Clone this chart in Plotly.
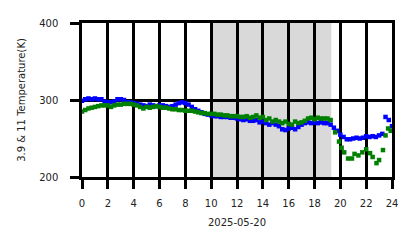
import plotly.graph_objects as go

blue_t = [0.0, 0.25, 0.5, 0.75, 1.0, 1.25, 1.5, 1.75, 2.0, 2.25, 2.5, 2.75, 3.0, 3.25, 3.5, 3.75,
          4.0, 4.25, 4.5, 4.75, 5.0, 5.25, 5.5, 5.75, 6.0, 6.25, 6.5, 6.75, 7.0, 7.25, 7.5, 7.75,
          8.0, 8.25, 8.5, 8.75, 9.0, 9.25, 9.5, 9.75, 10.0, 10.25, 10.5, 10.75, 11.0, 11.25, 11.5, 11.75,
          12.0, 12.25, 12.5, 12.75, 13.0, 13.25, 13.5, 13.75, 14.0, 14.25, 14.5, 14.75, 15.0, 15.25, 15.5, 15.75,
          16.0, 16.25, 16.5, 16.75, 17.0, 17.25, 17.5, 17.75, 18.0, 18.25, 18.5, 18.75, 19.0, 19.25, 19.5, 19.75,
          20.0, 20.25, 20.5, 20.75, 21.0, 21.25, 21.5, 21.75, 22.0, 22.25, 22.5, 22.75, 23.0, 23.25, 23.5, 23.75, 24.0]
blue_k = [299, 301, 302, 301, 302, 301, 301, 298, 297, 297, 298, 301, 301, 300, 297, 297,
          296, 295, 294, 293, 292, 294, 293, 292, 293, 293, 292, 291, 292, 294, 296, 297,
          296, 294, 291, 288, 286, 284, 282, 281, 280, 279, 279, 278, 278, 278, 277, 277,
          276, 275, 274, 275, 273, 273, 274, 271, 272, 270, 268, 270, 268, 266, 262, 261,
          263, 264, 262, 265, 268, 270, 271, 270, 271, 270, 271, 270, 270, 268, 264, 260,
          255, 252, 249, 249, 250, 251, 250, 251, 253, 252, 253, 252, 254, 256, 278, 274, 266]

green_t = [0.0, 0.25, 0.5, 0.75, 1.0, 1.25, 1.5, 1.75, 2.0, 2.25, 2.5, 2.75, 3.0, 3.25, 3.5, 3.75,
           4.0, 4.25, 4.5, 4.75, 5.0, 5.25, 5.5, 5.75, 6.0, 6.25, 6.5, 6.75, 7.0, 7.25, 7.5, 7.75,
           8.0, 8.25, 8.5, 8.75, 9.0, 9.25, 9.5, 9.75, 10.0, 10.25, 10.5, 10.75, 11.0, 11.25, 11.5, 11.75,
           12.0, 12.25, 12.5, 12.75, 13.0, 13.25, 13.5, 13.75, 14.0, 14.25, 14.5, 14.75, 15.0, 15.25, 15.5, 15.75,
           16.0, 16.25, 16.5, 16.75, 17.0, 17.25, 17.5, 17.75, 18.0, 18.25, 18.5, 18.75, 19.0, 19.25,
           19.6, 19.9, 20.1, 20.3, 20.6, 20.9, 21.1, 21.4, 21.7, 22.0, 22.3, 22.5, 22.8, 23.0, 23.3, 23.5, 23.7, 23.9]
green_k = [285, 287, 289, 290, 291, 292, 293, 293, 293, 291, 293, 294, 294, 295, 295, 295,
           294, 293, 291, 289, 291, 290, 291, 292, 291, 290, 290, 289, 288, 288, 287, 287,
           286, 286, 286, 285, 284, 283, 283, 282, 282, 282, 281, 281, 280, 280, 279, 279,
           279, 278, 278, 279, 277, 278, 280, 277, 278, 274, 276, 272, 274, 272, 270, 272,
           269, 268, 272, 270, 271, 273, 276, 277, 275, 277, 276, 276, 276, 274,
           258, 246, 238, 232, 224, 224, 230, 228, 232, 236, 231, 226, 218, 222, 235, 254, 263, 260]

x_ticks = [0, 2, 4, 6, 8, 10, 12, 14, 16, 18, 20, 22, 24]
y_ticks = [200, 300, 400]
shade = [10, 19.3]

fig = go.Figure()
fig.add_vrect(x0=shade[0], x1=shade[1], fillcolor="#d9d9d9", line_width=0, layer="below")
fig.add_trace(go.Scatter(x=blue_t, y=blue_k, mode="markers",
                         marker=dict(symbol="square", size=4.5, color="#0000ff", line_width=0)))
fig.add_trace(go.Scatter(x=green_t, y=green_k, mode="markers",
                         marker=dict(symbol="square", size=4.5, color="#008000", line_width=0)))

font = dict(family="DejaVu Sans", size=10, color="#222222")
fig.update_layout(
    width=418, height=248,
    margin=dict(l=82, r=26, t=23, b=71),
    plot_bgcolor="white", paper_bgcolor="white",
    showlegend=False, font=font,
)
fig.update_xaxes(range=[0, 24], tickvals=x_ticks, ticktext=[str(v) for v in x_ticks],
                 showgrid=True, gridcolor="black", gridwidth=2.5, zeroline=False,
                 ticks="outside", ticklen=9, tickwidth=2.5, tickcolor="black",
                 ticklabelstandoff=6,
                 showline=True, mirror=True, linecolor="black", linewidth=2.5,
                 title=dict(text="2025-05-20", font=font, standoff=12))
fig.update_yaxes(range=[200, 400], tickvals=y_ticks, ticktext=[str(v) for v in y_ticks],
                 showgrid=True, gridcolor="black", gridwidth=2.5, zeroline=False,
                 ticks="outside", ticklen=9, tickwidth=2.5, tickcolor="black",
                 ticklabelstandoff=10,
                 showline=True, mirror=True, linecolor="black", linewidth=2.5,
                 title=dict(text="3.9 &amp; 11 Temperature(K)", font=font, standoff=12))

fig.write_html("out.html")
